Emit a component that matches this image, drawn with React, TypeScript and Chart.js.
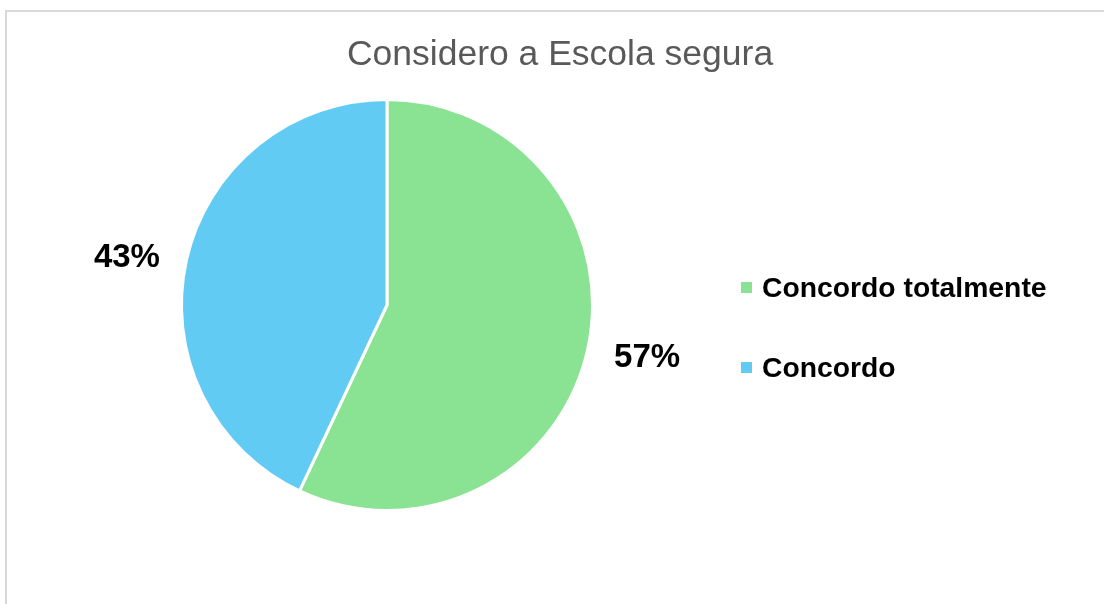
import React, { useEffect, useRef } from "react";
import { Chart, registerables } from "chart.js";

Chart.register(...registerables);

const TITLE = "Considero a Escola segura";
const CATEGORIES = ["Concordo totalmente", "Concordo"];
const VALUES = [57, 43];
const COLORS = ["#89E392", "#61CBF3"];
const LABEL_TEXTS = ["57%", "43%"];

const FONT = "'Liberation Sans', Arial, sans-serif";

const overlayPlugin = {
  id: "overlay",
  afterDraw(chart: any) {
    const ctx = chart.ctx as CanvasRenderingContext2D;
    ctx.save();
    // title
    ctx.fillStyle = "#595959";
    ctx.font = `35.5px ${FONT}`;
    ctx.textAlign = "center";
    ctx.textBaseline = "alphabetic";
    ctx.fillText(TITLE, 560, 65);

    // data labels
    const meta = chart.getDatasetMeta(0);
    ctx.fillStyle = "#000000";
    ctx.font = `bold 33px ${FONT}`;
    meta.data.forEach((arc: any, i: number) => {
      const p = arc.getProps(["x", "y", "startAngle", "endAngle", "outerRadius"], true);
      const mid = (p.startAngle + p.endAngle) / 2;
      const r = p.outerRadius + 61;
      const x = p.x + Math.cos(mid) * r;
      const y = p.y + Math.sin(mid) * r * 0.86;
      ctx.fillText(LABEL_TEXTS[i], x, y + 12);
    });

    // legend
    ctx.textAlign = "left";
    ctx.font = `bold 28.3px ${FONT}`;
    const legendX = 741;
    const legendY0 = 286;
    const legendGap = 80;
    CATEGORIES.forEach((c, i) => {
      const y = legendY0 + i * legendGap;
      ctx.fillStyle = COLORS[i];
      ctx.fillRect(legendX, y - 4, 11, 11);
      ctx.fillStyle = "#000000";
      ctx.fillText(c, legendX + 21, y + 11);
    });
    ctx.restore();
  },
};

export default function App() {
  const ref = useRef<HTMLCanvasElement | null>(null);
  useEffect(() => {
    if (!ref.current) return;
    const chart = new Chart(ref.current, {
      type: "pie",
      data: {
        labels: CATEGORIES,
        datasets: [
          {
            data: VALUES,
            backgroundColor: COLORS,
            borderColor: "#ffffff",
            borderWidth: 3,
          },
        ],
      },
      options: {
        animation: false,
        responsive: false,
        maintainAspectRatio: false,
        layout: { padding: { left: 180, right: 510, top: 98, bottom: 92 } },
        plugins: {
          legend: { display: false },
          title: { display: false },
          tooltip: { enabled: false },
        },
      },
      plugins: [overlayPlugin],
    });
    return () => chart.destroy();
  }, []);

  return (
    <div style={{ position: "fixed", left: 0, top: 0, width: 1104, height: 604, background: "#fff", overflow: "hidden" }}>
      <div
        style={{
          position: "absolute",
          left: 5,
          top: 10,
          width: 1300,
          height: 800,
          border: "2px solid #d9d9d9",
          boxSizing: "border-box",
        }}
      />
      <canvas ref={ref} width={1104} height={604} style={{ position: "absolute", left: 0, top: 0 }} />
    </div>
  );
}
